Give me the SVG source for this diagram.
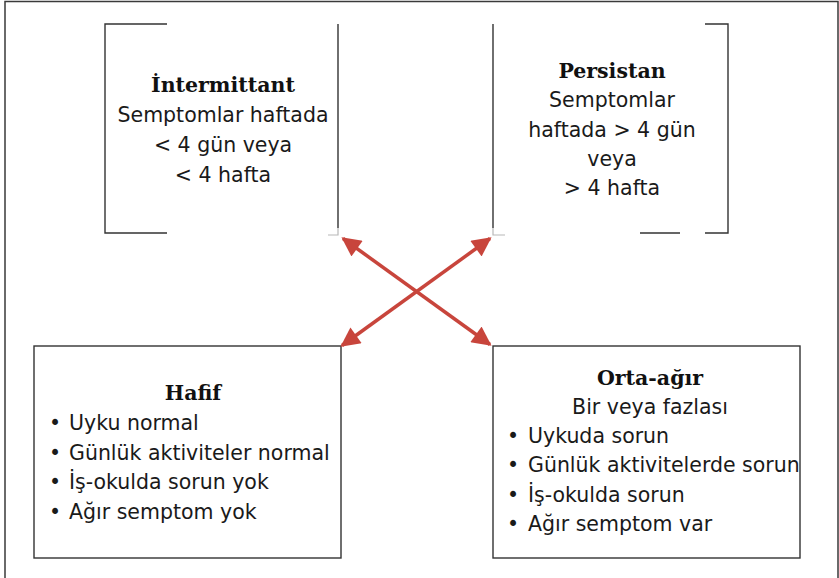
<svg xmlns="http://www.w3.org/2000/svg" width="839" height="578" viewBox="0 0 839 578">
<defs>
<style>
.frame{fill:none;stroke:#3a3a3a;stroke-width:1.5}
.box{fill:none;stroke:#333;stroke-width:1.4}
.faint{fill:none;stroke:#b8b8b8;stroke-width:1.2}
.t{font-family:"DejaVu Sans","Liberation Sans",sans-serif;font-size:20.5px;fill:#1a1a1a}
.h{font-family:"DejaVu Serif","Liberation Serif",serif;font-size:20.5px;font-weight:bold;fill:#111}
.c{text-anchor:middle}
.arrow{stroke:#c8453c;stroke-width:3.5;fill:none}
</style>
<marker id="ah" viewBox="0 0 10 10" refX="9" refY="5" markerWidth="6" markerHeight="5.5" orient="auto-start-reverse" markerUnits="strokeWidth">
<path d="M0,0 L10,5 L0,10 z" fill="#c8453c"/>
</marker>
</defs>
<rect width="839" height="578" fill="#fff"/>
<path class="frame" d="M5,580 V1.5 H838 V580"/>

<g id="intermittant">
<path class="box" d="M167,24 H105 V233 H167"/>
<path class="box" d="M338,24 V228"/>
<path class="faint" d="M338,228 V235 H328"/>
<text class="h c" x="223" y="92">İntermittant</text>
<text class="t c" x="223" y="122">Semptomlar haftada</text>
<text class="t c" x="223" y="152">&lt; 4 gün veya</text>
<text class="t c" x="223" y="182">&lt; 4 hafta</text>
</g>

<g id="persistan">
<path class="box" d="M493,24 V228"/>
<path class="faint" d="M493,228 V235 H505"/>
<path class="box" d="M705,24 H728 V233 H705 M680,233 H640"/>
<text class="h c" x="612" y="78">Persistan</text>
<text class="t c" x="612" y="107">Semptomlar</text>
<text class="t c" x="612" y="137">haftada &gt; 4 gün</text>
<text class="t c" x="612" y="166">veya</text>
<text class="t c" x="612" y="195">&gt; 4 hafta</text>
</g>

<g id="hafif">
<rect class="box" x="34" y="346" width="307" height="212"/>
<text class="h c" x="193" y="400">Hafif</text>
<text class="t" x="49" y="430">•<tspan x="69">Uyku normal</tspan></text>
<text class="t" x="49" y="460">•<tspan x="69">Günlük aktiviteler normal</tspan></text>
<text class="t" x="49" y="489">•<tspan x="69">İş-okulda sorun yok</tspan></text>
<text class="t" x="49" y="519">•<tspan x="69">Ağır semptom yok</tspan></text>
</g>

<g id="orta-agir">
<rect class="box" x="493" y="346" width="307" height="212"/>
<text class="h c" x="650" y="385">Orta-ağır</text>
<text class="t c" x="650" y="414">Bir veya fazlası</text>
<text class="t" x="507" y="443">•<tspan x="528">Uykuda sorun</tspan></text>
<text class="t" x="507" y="472">•<tspan x="528">Günlük aktivitelerde sorun</tspan></text>
<text class="t" x="507" y="502">•<tspan x="528">İş-okulda sorun</tspan></text>
<text class="t" x="507" y="531">•<tspan x="528">Ağır semptom var</tspan></text>
</g>

<g id="connectors">
<line class="arrow" x1="343" y1="238.5" x2="490" y2="344.5" marker-start="url(#ah)" marker-end="url(#ah)"/>
<line class="arrow" x1="490" y1="238.5" x2="342" y2="345.5" marker-start="url(#ah)" marker-end="url(#ah)"/>
</g>
</svg>
